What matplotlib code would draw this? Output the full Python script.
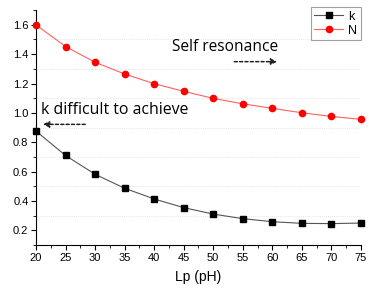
import matplotlib
matplotlib.use("Agg")
import matplotlib.pyplot as plt
from matplotlib.ticker import MultipleLocator

lp = [20, 25, 30, 35, 40, 45, 50, 55, 60, 65, 70, 75]
k_vals = [0.876, 0.710, 0.582, 0.487, 0.414, 0.355, 0.311, 0.280, 0.259, 0.248, 0.246, 0.250]
n_vals = [1.600, 1.452, 1.345, 1.265, 1.199, 1.147, 1.099, 1.062, 1.031, 1.001, 0.976, 0.956]
x_ticks = [20, 25, 30, 35, 40, 45, 50, 55, 60, 65, 70, 75]
y_ticks = [0.2, 0.4, 0.6, 0.8, 1.0, 1.2, 1.4, 1.6]

plt.rcParams['font.family'] = ['Liberation Sans', 'DejaVu Sans']

fig = plt.figure(figsize=(3.69, 2.89), dpi=100)
ax = fig.add_axes([0.0976, 0.152, 0.8804, 0.813])

for yg in [0.3, 0.5, 0.7, 0.9, 1.1, 1.3, 1.5]:
    ax.axhline(yg, color='#dddddd', lw=0.6, ls=(0, (1, 1.5)), zorder=0)

ax.plot(lp, k_vals, color='#555555', lw=0.8, marker='s', ms=4.2, mfc='black', mec='black', label='k', clip_on=False, zorder=3)
ax.plot(lp, n_vals, color='#ff6060', lw=0.8, marker='o', ms=4.5, mfc='red', mec='red', label='N', clip_on=False, zorder=3)

ax.set_xlim(20, 75)
ax.set_ylim(0.1, 1.7)
ax.set_xticks(x_ticks)
ax.set_yticks(y_ticks)
ax.xaxis.set_minor_locator(MultipleLocator(2.5))
ax.yaxis.set_minor_locator(MultipleLocator(0.1))
ax.spines['top'].set_visible(False)
ax.spines['right'].set_visible(False)
ax.tick_params(axis='both', which='major', direction='out', length=3.5, width=0.8, labelsize=8, pad=2)
ax.tick_params(axis='both', which='minor', direction='out', length=2, width=0.6)
ax.set_xlabel('Lp (pH)', fontsize=10, labelpad=5)

leg = ax.legend(loc='upper right', bbox_to_anchor=(1.0, 1.013), borderaxespad=0, fontsize=9, frameon=True,
                fancybox=False, edgecolor='#888888', handlelength=2.3, borderpad=0.3, labelspacing=0.15,
                handletextpad=0.4)
leg.get_frame().set_linewidth(0.8)

tf = ['Open Sans', 'DejaVu Sans']
ax.text(43.0, 1.45, 'Self resonance', fontsize=11.2, family=tf, va='center', ha='left')
ax.annotate('', xy=(61.3, 1.349), xytext=(53.1, 1.349),
            arrowprops=dict(arrowstyle='-|>', color='#222222', lw=1.1, ls=(0, (2, 1.5)), mutation_scale=9))
ax.text(20.8, 1.02, 'k difficult to achieve', fontsize=11.4, family=tf, va='center', ha='left')
ax.annotate('', xy=(20.7, 0.922), xytext=(28.8, 0.922),
            arrowprops=dict(arrowstyle='-|>', color='#222222', lw=1.1, ls=(0, (2, 1.5)), mutation_scale=9))

fig.savefig('out.png', dpi=100)
